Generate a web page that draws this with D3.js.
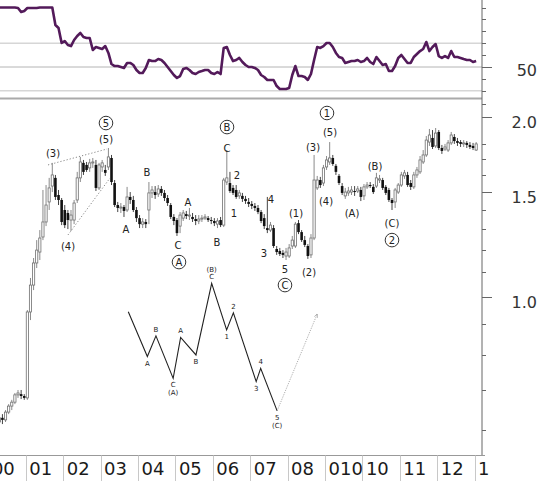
<!DOCTYPE html>
<html><head><meta charset="utf-8">
<script src="https://cdn.jsdelivr.net/npm/d3@7"></script>
<style>body{margin:0;background:#fff}svg{display:block}</style>
</head><body><svg id="c" width="540" height="481"></svg>
<script>
// monthly candles, first candle = April 2000
const firstYear = 2000, firstMonth = 3;
const opens = [
0.618,0.628,0.623,0.642,0.657,0.667,0.686,0.688,0.683,0.678,
0.944,1.047,1.140,1.189,1.260,1.335,1.442,1.533,1.582,1.481,
1.453,1.398,1.382,1.345,1.345,1.453,1.582,1.676,1.663,1.644,
1.676,1.663,1.522,1.650,1.631,1.650,1.708,1.551,1.425,1.409,
1.414,1.398,1.470,1.453,1.398,1.355,1.324,1.335,1.398,1.493,
1.498,1.487,1.516,1.493,1.464,1.425,1.361,1.345,1.314,1.355,
1.376,1.366,1.361,1.350,1.340,1.350,1.355,1.355,1.345,1.340,
1.324,1.345,1.319,1.557,1.551,1.522,1.510,1.476,1.476,1.459,
1.442,1.431,1.420,1.409,1.387,1.355,1.304,1.294,1.304,1.203,
1.194,1.185,1.171,1.171,1.217,1.217,1.329,1.284,1.245,1.217,
1.176,1.255,1.522,1.569,1.551,1.650,1.682,1.708,1.657,1.594,
1.533,1.476,1.493,1.498,1.504,1.504,1.510,1.476,1.528,1.539,
1.528,1.533,1.569,1.569,1.528,1.510,1.453,1.442,1.498,1.539,
1.594,1.600,1.551,1.528,1.600,1.619,1.682,1.728,1.816,1.845,
1.789,1.888,1.775,1.768,1.761,1.810,1.852,1.823,1.816,1.803,
1.810,1.796,1.789,1.761];
const highs = [
0.635,0.637,0.647,0.662,0.673,0.691,0.699,0.699,0.688,0.951,
1.076,1.162,1.245,1.294,1.510,1.539,1.582,1.676,1.600,1.510,
1.464,1.425,1.398,1.398,1.453,1.619,1.715,1.695,1.682,1.702,
1.708,1.695,1.676,1.695,1.663,1.775,1.728,1.569,1.442,1.436,
1.425,1.528,1.498,1.476,1.414,1.371,1.355,1.350,1.557,1.533,
1.533,1.539,1.533,1.510,1.481,1.436,1.376,1.355,1.387,1.398,
1.393,1.409,1.382,1.371,1.371,1.371,1.376,1.366,1.361,1.355,
1.355,1.361,1.582,1.761,1.619,1.539,1.539,1.510,1.493,1.476,
1.464,1.447,1.436,1.425,1.398,1.376,1.470,1.335,1.319,1.217,
1.208,1.198,1.208,1.226,1.265,1.335,1.345,1.294,1.265,1.226,
1.274,1.728,1.594,1.588,1.663,1.721,1.816,1.728,1.669,1.606,
1.551,1.522,1.528,1.533,1.533,1.533,1.528,1.545,1.557,1.557,
1.545,1.613,1.600,1.582,1.539,1.522,1.464,1.522,1.551,1.619,
1.631,1.619,1.569,1.619,1.650,1.721,1.761,1.859,1.910,1.902,
1.917,1.902,1.796,1.803,1.830,1.888,1.873,1.845,1.830,1.830,
1.823,1.816,1.810,1.816];
const lows = [
0.611,0.613,0.618,0.637,0.647,0.662,0.678,0.675,0.673,0.673,
0.915,1.027,1.118,1.153,1.245,1.314,1.398,1.498,1.453,1.425,
1.319,1.304,1.299,1.289,1.324,1.436,1.557,1.600,1.619,1.619,
1.644,1.504,1.510,1.619,1.594,1.631,1.539,1.414,1.387,1.382,
1.361,1.387,1.431,1.387,1.335,1.304,1.304,1.304,1.324,1.464,
1.459,1.470,1.476,1.447,1.420,1.350,1.319,1.265,1.279,1.340,
1.350,1.345,1.335,1.319,1.324,1.335,1.345,1.335,1.324,1.314,
1.304,1.309,1.309,1.539,1.493,1.481,1.459,1.459,1.442,1.431,
1.414,1.403,1.393,1.376,1.329,1.299,1.279,1.284,1.208,1.176,
1.171,1.162,1.153,1.162,1.203,1.208,1.274,1.236,1.212,1.158,
1.162,1.245,1.510,1.522,1.533,1.631,1.663,1.657,1.600,1.539,
1.481,1.459,1.476,1.481,1.476,1.493,1.447,1.453,1.516,1.522,
1.487,1.522,1.551,1.510,1.481,1.442,1.398,1.409,1.487,1.528,
1.576,1.528,1.510,1.516,1.582,1.606,1.669,1.715,1.789,1.768,
1.775,1.761,1.735,1.755,1.748,1.796,1.803,1.789,1.782,1.782,
1.775,1.768,1.761,1.755];
const closes = [
0.628,0.623,0.642,0.657,0.667,0.686,0.691,0.683,0.678,0.944,
1.047,1.140,1.198,1.255,1.335,1.425,1.522,1.600,1.470,1.453,
1.335,1.319,1.345,1.371,1.436,1.582,1.682,1.619,1.631,1.676,
1.682,1.522,1.663,1.676,1.613,1.715,1.557,1.425,1.409,1.414,
1.393,1.470,1.453,1.398,1.355,1.324,1.335,1.324,1.493,1.510,
1.481,1.516,1.493,1.464,1.436,1.361,1.340,1.279,1.371,1.382,
1.366,1.371,1.350,1.340,1.350,1.355,1.361,1.345,1.340,1.329,
1.340,1.319,1.569,1.582,1.504,1.493,1.470,1.493,1.459,1.447,
1.431,1.420,1.409,1.387,1.340,1.314,1.294,1.319,1.217,1.189,
1.180,1.176,1.189,1.208,1.245,1.324,1.284,1.245,1.222,1.171,
1.255,1.569,1.569,1.539,1.644,1.695,1.708,1.669,1.619,1.551,
1.493,1.498,1.504,1.510,1.498,1.516,1.470,1.528,1.539,1.533,
1.498,1.582,1.576,1.522,1.493,1.453,1.436,1.510,1.539,1.600,
1.613,1.539,1.528,1.600,1.631,1.695,1.728,1.830,1.866,1.782,
1.880,1.775,1.755,1.782,1.810,1.866,1.823,1.810,1.803,1.810,
1.796,1.782,1.775,1.803];
const rsi = [
100,100,100,100,100,100,99.6,96.2,97.1,99.6,
99.6,99.6,99.6,100,100,100,100,100,85.3,82.8,
70.2,71.8,68.5,67.6,72.7,76.1,78.6,75.2,74.4,74.4,
64.3,66.8,66.0,65.1,67.6,61.8,52.5,50.8,50.8,50.0,
49.2,53.4,53.4,51.7,47.5,45.0,45.0,49.2,55.9,55.0,
55.0,56.7,55.9,53.4,50.0,46.6,43.3,40.8,42.4,48.3,
49.2,47.5,45.0,44.1,45.8,46.6,47.5,47.5,45.0,44.1,
45.8,44.1,66.0,66.8,60.1,55.0,55.9,57.6,54.2,51.7,
50.0,50.0,49.2,47.5,43.3,41.6,39.1,39.1,39.1,34.0,
31.5,31.5,31.5,32.4,43.3,50.8,42.4,42.4,41.6,39.1,
44.1,55.9,66.8,66.0,67.6,70.2,70.2,66.8,61.8,58.4,
57.6,53.4,54.2,55.0,55.0,55.9,54.2,55.0,57.6,54.2,
52.5,58.4,55.0,51.7,52.5,46.6,46.6,50.8,57.6,60.1,
56.7,53.4,53.4,58.4,60.9,63.4,65.1,71.0,63.4,66.8,
69.3,59.2,57.6,59.2,57.6,63.4,58.4,58.4,57.6,56.7,
55.9,55.9,54.2,55.0];

const yearLabels = ["00","01","02","03","04","05","06","07","08","010","10","11","12","1"];
const labelYears = [2000,2001,2002,2003,2004,2005,2006,2007,2008,2009,2010,2011,2012,2013];
const priceMajor = [1.0, 1.5, 2.0];
const priceMinor = [0.6, 0.7, 0.8, 0.9, 1.1, 1.2, 1.3, 1.4, 1.6, 1.7, 1.8, 2.1];
const rsiMajor = [50];
const rsiMinor = [30, 40, 60, 70, 80, 90, 100];
const rsiGridLight = [70, 30];

// Elliott wave annotations (date as decimal year, price)
const waveText = ["(3)","(5)","(4)","A","B","C","A","B","C","2","1","4","3","5","(1)","(2)","(3)","(5)","(4)","(A)","(B)","(C)"];
const waveDate = [2001.727,2003.144,2002.128,2003.679,2004.241,2005.070,2005.337,2006.112,2006.380,2006.647,2006.567,2007.556,2007.369,2007.930,2008.225,2008.572,2008.679,2009.134,2009.027,2009.722,2010.337,2010.791];
const wavePrice = [1.741,1.838,1.217,1.299,1.618,1.222,1.442,1.236,1.775,1.600,1.382,1.458,1.185,1.110,1.382,1.101,1.782,1.888,1.447,1.382,1.656,1.330];
const circText = ["5","A","B","C","1","2"];
const circDate = [2003.144,2005.096,2006.380,2007.930,2009.053,2010.791];
const circPrice = [1.954,1.144,1.924,1.047,2.031,1.245];
// dotted wedge lines
const wedgeUpper = [[2001.594,1.663],[2003.171,1.768]];
const wedgeLower = [[2002.128,1.270],[2003.251,1.581]];
// schematic inset
const schemDate = [2003.74,2004.25,2004.48,2004.94,2005.14,2005.55,2005.97,2006.37,2006.55,2007.16,2007.28,2007.72];
const schemPrice = [0.945,0.795,0.861,0.731,0.856,0.800,1.054,0.881,0.941,0.722,0.760,0.645];
const schemEnd = [2008.79, 0.936];
const schemLabels = [
 {i:1,t:["A"],pos:"b"},{i:2,t:["B"],pos:"a"},{i:3,t:["C","(A)"],pos:"b"},
 {i:4,t:["A"],pos:"a"},{i:5,t:["B"],pos:"b"},{i:6,t:["(B)","C"],pos:"a"},
 {i:7,t:["1"],pos:"b"},{i:8,t:["2"],pos:"a"},{i:9,t:["3"],pos:"b"},
 {i:10,t:["4"],pos:"a"},{i:11,t:["5","(C)"],pos:"b"}];

(function(){
const svg = d3.select("#c");
const AX = 482, TOP_B = 98.5, BOT = 455.5;
const x = d3.scaleLinear().domain([2000, 2013]).range([-11.6, 474.6]);
const y = d3.scaleLog().domain([1, 2]).range([297, 117]);
const yr = d3.scaleLinear().domain([0, 100]).range([126.5, 7.5]);
const dateOf = i => firstYear + (firstMonth + i + 0.5) / 12;

const defs = svg.append("defs");
defs.append("clipPath").attr("id","cTop").append("rect").attr("x",0).attr("y",0).attr("width",AX).attr("height",TOP_B);
defs.append("clipPath").attr("id","cMain").append("rect").attr("x",0).attr("y",TOP_B+1).attr("width",AX).attr("height",BOT-TOP_B-1);
defs.append("marker").attr("id","arr").attr("viewBox","0 0 6 6").attr("refX",5).attr("refY",3)
  .attr("markerWidth",5).attr("markerHeight",5).attr("orient","auto")
  .append("path").attr("d","M0,0.5 L5.5,3 L0,5.5").attr("fill","none").attr("stroke","#888").attr("stroke-width",0.8);

// top panel grid
const topG = svg.append("g").attr("clip-path","url(#cTop)");
topG.selectAll("line.gl").data(rsiGridLight).join("line")
  .attr("x1",0).attr("x2",AX).attr("y1",d=>yr(d)).attr("y2",d=>yr(d))
  .attr("stroke","#d6d6d6").attr("stroke-width",1.6);
topG.append("line").attr("x1",0).attr("x2",AX).attr("y1",yr(50)).attr("y2",yr(50))
  .attr("stroke","#b4b4b4").attr("stroke-width",1);
topG.append("path").datum(rsi)
  .attr("d", d3.line().x((d,i)=>x(dateOf(i))).y(d=>yr(d)))
  .attr("fill","none").attr("stroke","#531a5a").attr("stroke-width",2.6).attr("stroke-linejoin","round");
svg.append("line").attr("x1",0).attr("x2",AX).attr("y1",TOP_B).attr("y2",TOP_B)
  .attr("stroke","#aaa").attr("stroke-width",1.8);

// candles
const main = svg.append("g").attr("clip-path","url(#cMain)");
const idx = d3.range(opens.length);
main.selectAll("line.w").data(idx).join("line")
  .attr("x1",i=>x(dateOf(i))).attr("x2",i=>x(dateOf(i)))
  .attr("y1",i=>y(highs[i])).attr("y2",i=>y(lows[i]))
  .attr("stroke",i=>closes[i]>=opens[i]?"#8a8a8a":"#444").attr("stroke-width",1);
main.selectAll("rect.b").data(idx).join("rect")
  .attr("x",i=>x(dateOf(i)) - (closes[i]>=opens[i]?1.1:1.3))
  .attr("width",i=>closes[i]>=opens[i]?2.2:2.6)
  .attr("y",i=>y(Math.max(opens[i],closes[i])))
  .attr("height",i=>Math.max(1, Math.abs(y(opens[i])-y(closes[i]))))
  .attr("fill",i=>closes[i]>=opens[i]?"#fff":"#111")
  .attr("stroke",i=>closes[i]>=opens[i]?"#6f6f6f":"none")
  .attr("stroke-width",0.8);

// wedge dotted lines
[wedgeUpper, wedgeLower].forEach(seg=>{
  main.append("line").attr("x1",x(seg[0][0])).attr("y1",y(seg[0][1]))
    .attr("x2",x(seg[1][0])).attr("y2",y(seg[1][1]))
    .attr("stroke","#888").attr("stroke-width",1).attr("stroke-dasharray","1.2,2");
});

// schematic
const schem = d3.range(schemDate.length).map(i=>[x(schemDate[i]), y(schemPrice[i])]);
main.append("path").attr("d", d3.line()(schem)).attr("fill","none").attr("stroke","#222").attr("stroke-width",1.1);
const last = schem[schem.length-1];
main.append("line").attr("x1",last[0]).attr("y1",last[1]).attr("x2",x(schemEnd[0])).attr("y2",y(schemEnd[1]))
  .attr("stroke","#999").attr("stroke-width",0.8).attr("stroke-dasharray","1.2,1.2").attr("marker-end","url(#arr)");
schemLabels.forEach(l=>{
  const p = schem[l.i];
  l.t.forEach((t,k)=>{
    const dy = l.pos==="b" ? 9 + k*8 : -4 - (l.t.length-1-k)*7;
    main.append("text").attr("x",p[0]).attr("y",p[1]+dy).attr("text-anchor","middle")
      .attr("font-family","DejaVu Sans, sans-serif").attr("font-size",7).attr("fill","#222").text(t);
  });
});

// wave labels
main.selectAll("text.wl").data(waveText).join("text")
  .attr("x",(d,i)=>x(waveDate[i])).attr("y",(d,i)=>y(wavePrice[i]))
  .attr("dy","0.36em").attr("text-anchor","middle")
  .attr("font-family","DejaVu Sans, sans-serif").attr("font-size",10).attr("fill","#222").text(d=>d);
const cg = main.selectAll("g.cl").data(circText).join("g")
  .attr("transform",(d,i)=>`translate(${x(circDate[i])},${y(circPrice[i])})`);
cg.append("circle").attr("r",6.8).attr("fill","#fff").attr("stroke","#333").attr("stroke-width",1);
cg.append("text").attr("dy","0.36em").attr("text-anchor","middle")
  .attr("font-family","DejaVu Sans, sans-serif").attr("font-size",10).attr("fill","#222").text(d=>d);

// right axis
svg.append("line").attr("x1",AX).attr("x2",AX).attr("y1",0).attr("y2",BOT).attr("stroke","#666").attr("stroke-width",1);
const tick = (yy,len)=>svg.append("line").attr("x1",AX).attr("x2",AX+len).attr("y1",yy).attr("y2",yy).attr("stroke","#666").attr("stroke-width",1);
rsiMinor.forEach(v=>tick(Math.round(yr(v))+0.5,4));
rsiMajor.forEach(v=>tick(Math.round(yr(v))+0.5,10));
priceMinor.forEach(v=>tick(Math.round(y(v))+0.5,4));
priceMajor.forEach(v=>tick(Math.round(y(v))+0.5,10));
svg.selectAll("text.rl").data(rsiMajor).join("text")
  .attr("x",537).attr("y",d=>yr(d)+9).attr("text-anchor","end")
  .attr("font-family","DejaVu Sans, sans-serif").attr("font-size",16).attr("fill","#333").text(d=>d);
svg.selectAll("text.pl").data(priceMajor).join("text")
  .attr("x",537).attr("y",d=>y(d)+11).attr("text-anchor","end")
  .attr("font-family","DejaVu Sans, sans-serif").attr("font-size",16).attr("fill","#333").text(d=>d3.format(".1f")(d));

// bottom axis
svg.append("line").attr("x1",0).attr("x2",AX+3).attr("y1",BOT).attr("y2",BOT).attr("stroke","#999").attr("stroke-width",1.2);
svg.selectAll("line.sep").data(labelYears.slice(1)).join("line")
  .attr("x1",d=>Math.round(x(d))+0.5).attr("x2",d=>Math.round(x(d))+0.5).attr("y1",BOT).attr("y2",481)
  .attr("stroke","#c8c8c8").attr("stroke-width",1);
svg.selectAll("text.xl").data(yearLabels).join("text")
  .attr("x",(d,i)=>x(labelYears[i])+3.5).attr("y",474.5)
  .attr("font-family","DejaVu Sans, sans-serif").attr("font-size",18).attr("fill","#1a1a1a").text(d=>d);
})();
</script>
</body></html>
